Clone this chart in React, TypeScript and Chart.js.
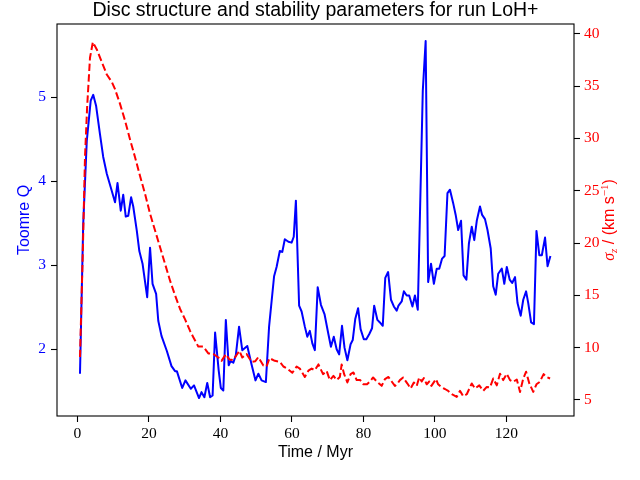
import { Chart, registerables } from 'chart.js';
import { useEffect, useRef } from 'react';

Chart.register(...registerables);

// Toomre Q (left axis, blue)
const qTime = [
    0.7, 1.6, 2.6, 3.7, 4.4, 5.2, 6.3, 7.2, 8.2, 9.3, 10.5, 11.2, 12.1, 12.8, 13.5, 14.2, 15.0, 15.6,
    16.6, 17.3, 18.2, 19.5, 20.3, 21.0, 22.0, 22.6, 23.5, 25.0, 26.3, 27.3, 27.8, 29.3, 30.2, 31.7,
    32.6, 34.0, 34.7, 35.5, 36.3, 37.1, 37.8, 38.5, 39.5, 40.1, 40.8, 41.5, 42.3, 42.8, 43.6, 44.3,
    45.2, 46.1, 47.5, 48.7, 49.8, 50.6, 51.5, 52.7, 53.6, 55.0, 55.7, 56.6, 57.3, 58.0, 59.0, 59.9,
    60.5, 61.1, 62.0, 62.7, 63.6, 64.3, 65.0, 65.7, 66.4, 67.2, 68.1, 69.1, 70.2, 70.9, 71.7, 72.5,
    73.2, 74.0, 74.7, 75.5, 76.4, 77.0, 77.7, 78.5, 79.2, 80.1, 80.8, 81.6, 82.4, 83.0, 83.9, 84.6,
    85.4, 86.1, 86.9, 87.7, 88.5, 89.3, 89.8, 90.7, 91.3, 92.1, 92.8, 93.7, 94.4, 95.2, 96.6, 97.4,
    98.1, 98.9, 99.7, 100.5, 101.2, 102.0, 102.7, 103.5, 104.2, 105.1, 105.8, 106.5, 107.3, 108.0,
    108.8, 109.5, 110.3, 111.0, 111.7, 112.6, 113.2, 114.0, 114.7, 115.6, 116.3, 117.0, 117.7, 118.7,
    119.4, 120.1, 120.9, 121.6, 122.4, 123.1, 124.0, 124.7, 125.5, 126.1, 126.9, 127.7, 128.4, 129.2,
    129.9, 130.8, 131.5, 132.3,
];
const qValues = [
    1.71, 3.49, 4.48, 4.96, 5.03, 4.90, 4.56, 4.29, 4.09, 3.93, 3.75, 3.98, 3.65, 3.84, 3.58, 3.59, 3.81, 3.70,
    3.41, 3.17, 3.02, 2.62, 3.21, 2.78, 2.66, 2.34, 2.16, 1.98, 1.80, 1.74, 1.74, 1.54, 1.63, 1.53,
    1.57, 1.42, 1.49, 1.43, 1.60, 1.43, 1.45, 2.20, 1.75, 1.54, 1.51, 2.35, 1.81, 1.86, 1.84, 1.93,
    2.27, 1.99, 2.04, 1.82, 1.63, 1.71, 1.63, 1.61, 2.27, 2.87, 2.98, 3.17, 3.16, 3.31, 3.28, 3.27,
    3.34, 3.77, 2.52, 2.45, 2.27, 2.15, 2.22, 2.07, 1.99, 2.74, 2.53, 2.42, 2.18, 2.03, 2.15, 2.00,
    1.94, 2.28, 2.02, 1.87, 2.06, 2.11, 2.36, 2.49, 2.24, 2.12, 2.12, 2.18, 2.25, 2.52, 2.35, 2.32,
    2.28, 2.85, 2.92, 2.59, 2.51, 2.46, 2.52, 2.57, 2.69, 2.64, 2.64, 2.51, 2.64, 2.47, 5.08, 5.67,
    2.80, 3.02, 2.78, 2.96, 2.96, 3.08, 3.11, 3.86, 3.90, 3.74, 3.60, 3.42, 3.53, 2.88,
    2.83, 3.26, 3.46, 3.30, 3.53, 3.70, 3.60, 3.55, 3.42, 3.20, 2.75, 2.65, 2.90, 2.96,
    2.78, 2.98, 2.83, 2.79, 2.86, 2.55, 2.40, 2.59, 2.69, 2.55, 2.32, 2.30, 3.41, 3.12,
    3.12, 3.33, 2.99, 3.11,
];

// sigma_z in km/s (right axis, red dashed)
const sigmaTime = [
    0.7, 1.45, 2.1, 2.7, 3.5, 4.3, 5.4, 6.8, 8.2, 9.6, 10.5, 11.9, 13.3, 14.7, 16.1, 17.5, 18.9, 20.3,
    21.7, 23.1, 24.5, 25.9, 27.3, 28.7, 30.1, 31.5, 32.4, 33.8, 35.2, 36.6, 38.0, 39.4, 40.3, 41.5,
    42.5, 43.6, 44.5, 45.3, 46.1, 47.3, 48.7, 49.7, 50.6, 52.0, 52.9, 53.7, 55.2, 56.6, 57.6, 58.7,
    60.1, 61.3, 62.2, 63.6, 64.6, 65.5, 66.4, 67.4, 68.7, 69.7, 70.6, 71.6, 72.5, 73.4, 73.9, 74.6,
    75.5, 76.4, 77.2, 78.1, 79.1, 80.0, 81.0, 81.8, 82.7, 83.7, 85.1, 86.0, 87.0, 87.9, 88.8, 89.4,
    90.2, 91.1, 92.3, 93.2, 94.1, 94.9, 95.6, 96.3, 96.9, 97.7, 98.4, 99.0, 100.3, 100.9, 101.9, 102.8,
    103.7, 104.7, 106.1, 107.0, 107.9, 108.9, 110.3, 111.2, 112.4, 113.5, 114.5, 115.4, 116.3, 117.3,
    118.2, 119.1, 120.1, 121.0, 121.9, 122.9, 123.8, 124.7, 125.5, 126.4, 127.5, 128.4, 129.3, 130.4,
    131.2, 132.2,
];
const sigmaValues = [
    9.1, 18.6, 28.2, 33.0, 37.7, 39.2, 38.5, 37.3, 36.1, 35.4, 34.7, 33.3, 31.7, 29.9, 28.2, 26.4, 24.7, 22.8,
    21.2, 19.6, 18.0, 16.4, 15.0, 13.7, 12.7, 11.6, 11.0, 10.1, 10.1, 9.45, 9.4, 9.06, 8.74, 9.38,
    8.87, 8.8, 9.3, 9.7, 9.06, 9.4, 8.65, 8.7, 9.1, 8.3, 8.2, 9.0, 8.74, 8.65, 8.2, 8.0,
    7.6, 8.2, 8.0, 7.2, 7.8, 8.0, 7.85, 8.4, 7.47, 7.78, 6.9, 7.3, 6.9, 7.2, 8.4, 7.47,
    6.67, 7.47, 7.63, 6.9, 6.9, 6.5, 6.5, 6.77, 7.15, 6.77, 6.35, 7.0, 7.2, 6.77, 6.35, 6.5,
    6.9, 7.15, 6.57, 6.1, 6.67, 6.35, 7.15, 6.77, 7.1, 6.5, 6.77, 6.35, 7.0, 6.5, 6.2, 6.05,
    5.87, 5.55, 5.3, 5.87, 5.36, 5.55, 6.58, 6.1, 6.4, 5.87, 6.25, 6.2, 7.05, 6.4,
    7.5, 6.9, 7.5, 6.9, 6.73, 6.96, 5.77, 7.05, 7.7, 6.58, 5.77, 6.5, 6.73, 7.47,
    7.2, 7.05,
];

const xTicks = [0, 20, 40, 60, 80, 100, 120];

const tickFont = { family: 'Liberation Serif', size: 15.5 };
const sans = '"Liberation Sans", Arial, sans-serif';

const textPlugin = {
    id: 'labels',
    afterDatasetsDraw(chart: any) {
        const { ctx, chartArea } = chart;
        const { left, right, top, bottom } = chartArea;
        const cx = (left + right) / 2;
        const cy = (top + bottom) / 2;
        ctx.save();
        // frame
        ctx.strokeStyle = '#000';
        ctx.lineWidth = 1.1;
        ctx.strokeRect(left, top, right - left, bottom - top);

        ctx.textBaseline = 'alphabetic';
        ctx.fillStyle = '#000';
        ctx.textAlign = 'center';
        ctx.font = `19.5px ${sans}`;
        ctx.fillText('Disc structure and stability parameters for run LoH+', cx, 15.7);

        ctx.font = `16px ${sans}`;
        ctx.fillText('Time / Myr', cx, 457.3);

        // left axis title
        ctx.save();
        ctx.translate(29.3, cy);
        ctx.rotate(-Math.PI / 2);
        ctx.fillStyle = '#0000ff';
        ctx.fillText('Toomre Q', 0, 0);
        ctx.restore();

        // right axis title with sub/superscripts
        const parts = [
            { t: 'σ', f: 'italic 16px "Liberation Serif"', dy: 0 },
            { t: 'z', f: 'italic 11px "Liberation Serif"', dy: 3 },
            { t: ' / (km s', f: `16px ${sans}`, dy: 0 },
            { t: '−1', f: '11px "Liberation Serif"', dy: -6.5 },
            { t: ')', f: `16px ${sans}`, dy: 0 },
        ];
        ctx.save();
        ctx.translate(614, cy);
        ctx.rotate(-Math.PI / 2);
        ctx.fillStyle = '#ff0000';
        ctx.textAlign = 'left';
        let total = 0;
        for (const p of parts) {
            ctx.font = p.f;
            total += ctx.measureText(p.t).width;
        }
        let x = -total / 2;
        for (const p of parts) {
            ctx.font = p.f;
            ctx.fillText(p.t, x, p.dy);
            x += ctx.measureText(p.t).width;
        }
        ctx.restore();
        ctx.restore();
    },
};

const tickGrid = {
    drawOnChartArea: false,
    drawTicks: true,
    tickLength: 6,
    tickColor: '#000',
    tickWidth: 1.1,
};

const App = () => {
    const chartRef = useRef<HTMLCanvasElement | null>(null);

    useEffect(() => {
        if (!chartRef.current) return;
        const ctx = chartRef.current.getContext('2d');
        if (!ctx) return;

        const myChart = new Chart(ctx, {
            type: 'line',
            data: {
                datasets: [
                    {
                        label: 'sigma_z',
                        data: sigmaTime.map((t, i) => ({ x: t, y: sigmaValues[i] })),
                        yAxisID: 'y2',
                        borderColor: '#ff0000',
                        borderWidth: 2,
                        borderDash: [7.4, 3.2],
                        borderCapStyle: 'butt',
                        borderJoinStyle: 'round',
                        pointRadius: 0,
                        tension: 0,
                    },
                    {
                        label: 'Toomre Q',
                        data: qTime.map((t, i) => ({ x: t, y: qValues[i] })),
                        yAxisID: 'y',
                        borderColor: '#0000ff',
                        borderWidth: 2,
                        borderJoinStyle: 'round',
                        pointRadius: 0,
                        tension: 0,
                    },
                ],
            },
            options: {
                animation: false,
                responsive: false,
                devicePixelRatio: 1,
                layout: { padding: { top: 24, left: 0, right: 0, bottom: 0 } },
                scales: {
                    x: {
                        type: 'linear',
                        position: 'bottom',
                        min: -5.73,
                        max: 138.9,
                        afterBuildTicks: (s: any) => {
                            s.ticks = xTicks.map((v) => ({ value: v }));
                        },
                        ticks: { color: '#000', font: tickFont, padding: 3, maxRotation: 0, autoSkip: false },
                        grid: tickGrid,
                        border: { display: false },
                        afterFit: (s: any) => { s.height = 64; },
                    },
                    y: {
                        type: 'linear',
                        position: 'left',
                        min: 1.206,
                        max: 5.873,
                        ticks: { stepSize: 1, includeBounds: false, color: '#0000ff', font: tickFont, padding: 5 },
                        grid: tickGrid,
                        border: { display: false },
                        afterFit: (s: any) => { s.width = 57; },
                    },
                    y2: {
                        type: 'linear',
                        position: 'right',
                        min: 3.47,
                        max: 40.93,
                        ticks: { stepSize: 5, includeBounds: false, color: '#ff0000', font: tickFont, padding: 4 },
                        grid: tickGrid,
                        border: { display: false },
                        afterFit: (s: any) => { s.width = 66; },
                    },
                },
                plugins: {
                    legend: { display: false },
                    title: { display: false },
                    tooltip: { enabled: false },
                },
            },
            plugins: [textPlugin],
        });

        return () => myChart.destroy();
    }, []);

    return (
        <div style={{ position: 'fixed', left: 0, top: 0, width: 640, height: 480, background: '#fff' }}>
            <canvas ref={chartRef} width={640} height={480} style={{ width: 640, height: 480 }} />
        </div>
    );
};

export default App;
